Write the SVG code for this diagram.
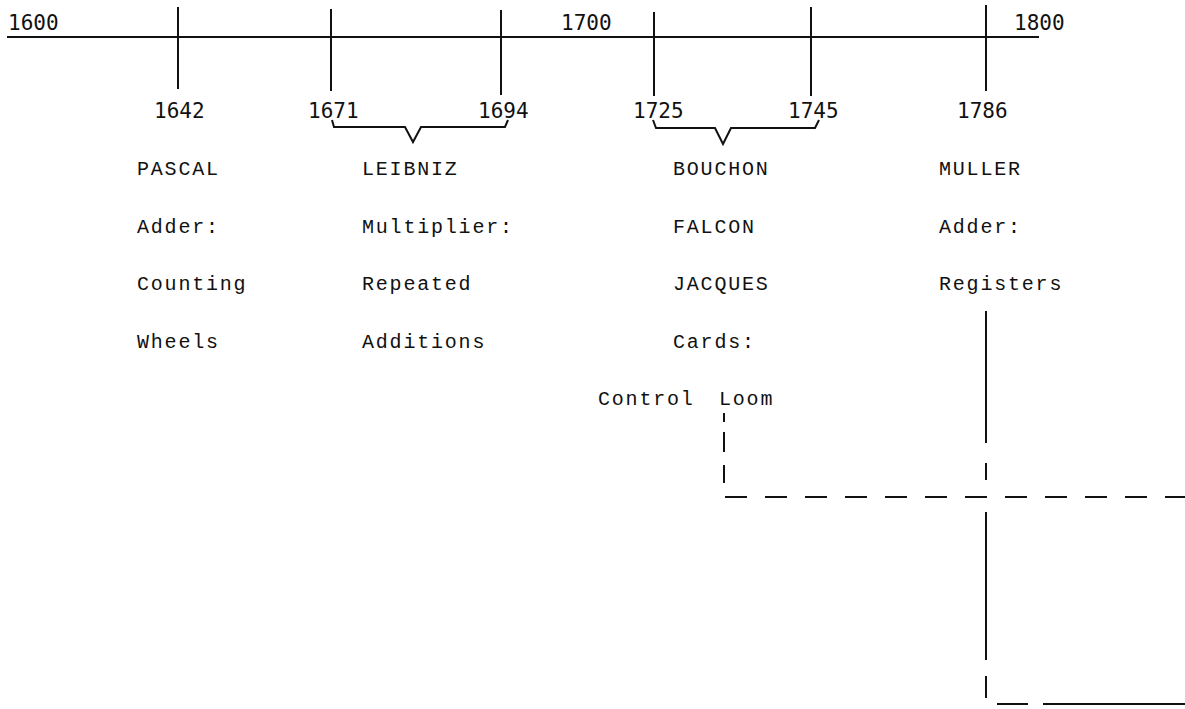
<svg xmlns="http://www.w3.org/2000/svg" width="1185" height="709" viewBox="0 0 1185 709">
<style>
.ln{stroke:#111;stroke-width:2;fill:none}
.ds{stroke:#111;stroke-width:2;fill:none;stroke-dasharray:22 18}
.yr{font-family:"DejaVu Sans Mono","Liberation Mono",monospace;font-size:21px;fill:#111}
.tx{font-family:"Liberation Mono","Courier New",monospace;font-size:20px;letter-spacing:1.8px;fill:#111}
</style>
<rect width="1185" height="709" fill="#fff"/>
<g id="timeline">
<line class="ln" x1="7" y1="37" x2="1039" y2="37"/>
<text class="yr" x="8" y="30">1600</text>
<text class="yr" x="561" y="30">1700</text>
<text class="yr" x="1014" y="30">1800</text>
</g>
<g id="connectors">
<line class="ln" x1="178" y1="7" x2="178" y2="89"/>
<line class="ln" x1="331" y1="9" x2="331" y2="91"/>
<line class="ln" x1="501" y1="10" x2="501" y2="95"/>
<line class="ln" x1="654" y1="12" x2="654" y2="96"/>
<line class="ln" x1="811" y1="7" x2="811" y2="96"/>
<line class="ln" x1="986" y1="5" x2="986" y2="91"/>
<path class="ln" d="M332 120 L334 127 L405 127 L413 142 L421 127 L505 127 L508 120"/>
<path class="ln" d="M653 120 L656 128 L715 128 L723 144 L731 128 L815 128 L819 120"/>
<line class="ln" x1="986" y1="311" x2="986" y2="443"/>
<line class="ln" x1="986" y1="463" x2="986" y2="480"/>
<path class="ln" d="M724 413 V422 M724 432 V452 M724 465 V483"/>
<path class="ds" d="M725 497 H1185"/>
<line class="ln" x1="986" y1="512" x2="986" y2="660"/>
<line class="ln" x1="986" y1="676" x2="986" y2="698"/>
<line class="ln" x1="997" y1="704" x2="1028" y2="704"/>
<line class="ln" x1="1043" y1="704" x2="1185" y2="704"/>
</g>
<g id="years">
<text class="yr" x="154" y="118">1642</text>
<text class="yr" x="308" y="118">1671</text>
<text class="yr" x="478" y="118">1694</text>
<text class="yr" x="633" y="118">1725</text>
<text class="yr" x="788" y="118">1745</text>
<text class="yr" x="957" y="118">1786</text>
</g>
<g id="pascal">
<text class="tx" x="137" y="175">PASCAL</text>
<text class="tx" x="137" y="233">Adder:</text>
<text class="tx" x="137" y="290">Counting</text>
<text class="tx" x="137" y="348">Wheels</text>
</g>
<g id="leibniz">
<text class="tx" x="362" y="175">LEIBNIZ</text>
<text class="tx" x="362" y="233">Multiplier:</text>
<text class="tx" x="362" y="290">Repeated</text>
<text class="tx" x="362" y="348">Additions</text>
</g>
<g id="bouchon">
<text class="tx" x="673" y="175">BOUCHON</text>
<text class="tx" x="673" y="233">FALCON</text>
<text class="tx" x="673" y="290">JACQUES</text>
<text class="tx" x="673" y="348">Cards:</text>
<text class="tx" x="598" y="405">Control <tspan x="719">Loom</tspan></text>
</g>
<g id="muller">
<text class="tx" x="939" y="175">MULLER</text>
<text class="tx" x="939" y="233">Adder:</text>
<text class="tx" x="939" y="290">Registers</text>
</g>
</svg>
